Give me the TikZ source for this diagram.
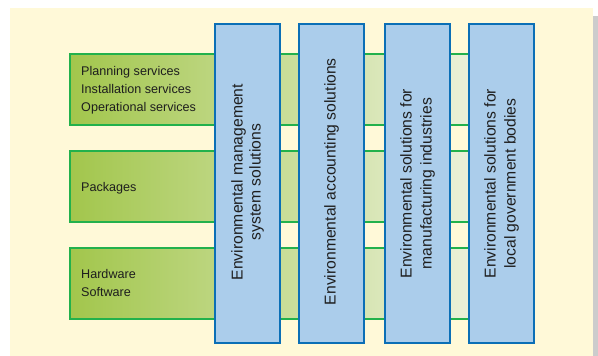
\documentclass[tikz,border=0pt]{standalone}
\usepackage{fontspec}
\setmainfont{Liberation Sans}
\definecolor{cream}{HTML}{FFF9D8}
\definecolor{greyedge}{HTML}{CCCCCC}
\definecolor{gline}{HTML}{22B14C}
\definecolor{gleft}{HTML}{A2C64C}
\definecolor{gright}{HTML}{F0F4E4}
\definecolor{bfill}{HTML}{ABCDEB}
\definecolor{bline}{HTML}{0B6FB6}
\definecolor{txt}{HTML}{1E1E1E}
\tikzset{
  bar/.style={draw=gline, line width=2pt, left color=gleft, right color=gright,
    minimum width=431pt, minimum height=71pt, anchor=north west, inner sep=0pt},
  solbox/.style={draw=bline, line width=2.2pt, fill=bfill,
    minimum width=65pt, minimum height=319pt, anchor=north west, inner sep=0pt},
  lefttext/.style={text=txt, font=\fontsize{12.6}{18}\selectfont, align=left, anchor=west, inner sep=0pt},
  vtext/.style={text=txt, font=\fontsize{15.7}{18}\selectfont, align=center, rotate=90, inner sep=0pt},
  vtextwide/.style={vtext, font=\fontsize{15.7}{20}\selectfont},
}
\begin{document}
\begin{tikzpicture}[x=1pt,y=-1pt]
\useasboundingbox (0,0) rectangle (598,356);
\fill[white] (0,0) rectangle (598,356);
\fill[cream] (10,8) rectangle (593,356);
\fill[greyedge] (593,16) rectangle (598,356);
% horizontal bars
\node[bar] (b1) at (69,53) {};
\node[bar] (b2) at (69,150) {};
\node[bar] (b3) at (69,247) {};
% vertical solution boxes
\node[solbox] (s1) at (214,23) {};
\node[solbox] (s2) at (298,23) {};
\node[solbox] (s3) at (384,23) {};
\node[solbox] (s4) at (468,23) {};
% bar texts
\node[lefttext] (t1) at (81,90.7) {Planning services\\Installation services\\Operational services};
\node[lefttext] (t2) at (81,188.4) {Packages};
\node[lefttext] (t3) at (81,282.5) {Hardware\\Software};
% box texts
\node[vtext] (v1) at ([yshift=1.5pt]s1.center) {Environmental management\\system solutions};
\node[vtext] (v2) at ([yshift=2pt]s2.center) {Environmental accounting solutions};
\node[vtextwide] (v3) at ([yshift=0pt]s3.center) {Environmental solutions for\\manufacturing industries};
\node[vtextwide] (v4) at ([yshift=0pt]s4.center) {Environmental solutions for\\local government bodies};
\end{tikzpicture}
\end{document}
